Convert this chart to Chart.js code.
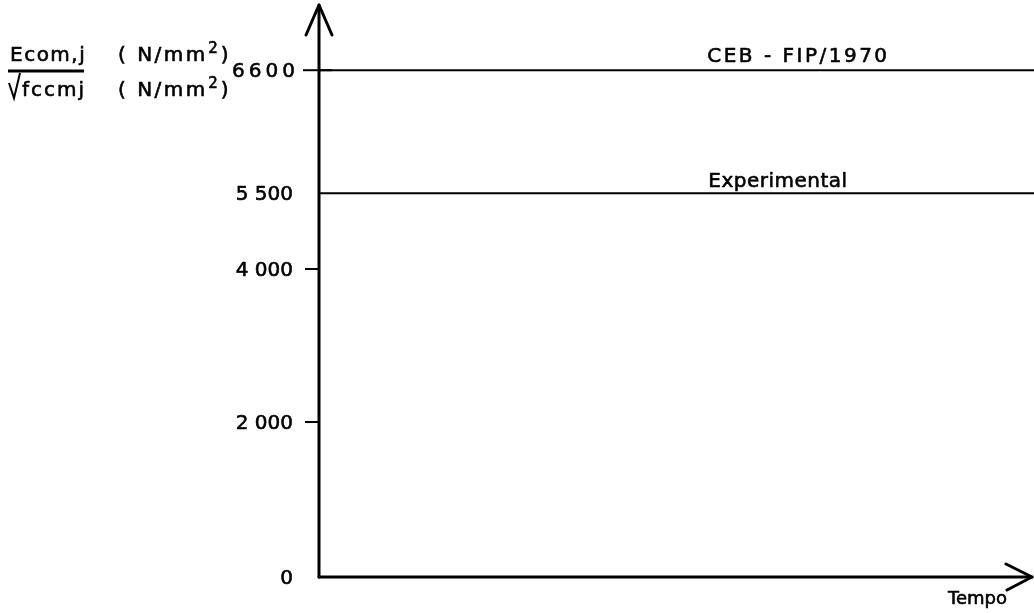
<!DOCTYPE html>
<html>
<head>
<meta charset="utf-8">
<script src="https://cdn.jsdelivr.net/npm/chart.js@4/dist/chart.umd.min.js"></script>
<style>
  html, body { margin: 0; padding: 0; background: #ffffff; }
  #c { display: block; }
</style>
</head>
<body>
<canvas id="c" width="1034" height="613"></canvas>
<script>
// ---- data ----
const timePoints = [0, 1];
const cebFipValues = [6600, 6600];
const experimentalValues = [5500, 5500];
const seriesLabels = ['CEB - FIP/1970', 'Experimental'];
const tickValues = [0, 2000, 4000, 5500, 6600];
const tickLabels = ['0', '2 000', '4 000', '5 500', '6600'];
const tickMarkValues = [2000, 4000];
const crossTickValues = [6600];
const yTitleTop = 'Ecom,j';
const yTitleBottom = 'fccmj';
const unitText = '( N/mm';
const unitSup = '2';
const xTitle = 'Tempo';

// ---- schematic (non-proportional) value axis as drawn in the original ----
const axisStops = [[0, 0], [2000, 0.271], [4000, 0.5385], [5500, 0.671], [6600, 0.886], [7500, 1]];
class SchematicScale extends Chart.LinearScale {
  getPixelForValue(value) {
    if (value === null || value === undefined || isNaN(value)) return NaN;
    let f;
    const s = axisStops;
    if (value <= s[0][0]) f = s[0][1];
    else if (value >= s[s.length - 1][0]) f = s[s.length - 1][1];
    else {
      for (let i = 1; i < s.length; i++) {
        if (value <= s[i][0]) {
          const t = (value - s[i - 1][0]) / (s[i][0] - s[i - 1][0]);
          f = s[i - 1][1] + t * (s[i][1] - s[i - 1][1]);
          break;
        }
      }
    }
    return this.getPixelForDecimal(f);
  }
  getValueForPixel(pixel) {
    const d = this.getDecimalForPixel(pixel);
    const s = axisStops;
    for (let i = 1; i < s.length; i++) {
      if (d <= s[i][1]) {
        const t = (d - s[i - 1][1]) / (s[i][1] - s[i - 1][1]);
        return s[i - 1][0] + t * (s[i][0] - s[i - 1][0]);
      }
    }
    return s[s.length - 1][0];
  }
}
SchematicScale.id = 'schematic';
SchematicScale.defaults = Chart.LinearScale.defaults;
Chart.register(SchematicScale);

const FONT = '"DejaVu Sans", sans-serif';

function drawSpaced(ctx, text, x, y, spacing, align) {
  ctx.letterSpacing = spacing + 'px';
  let w = ctx.measureText(text).width - spacing;
  let sx = x;
  if (align === 'right') sx = x - w;
  else if (align === 'center') sx = x - w / 2;
  ctx.textAlign = 'left';
  ctx.fillText(text, sx, y);
  ctx.lineWidth = 0.6;
  ctx.strokeText(text, sx, y);
  ctx.letterSpacing = '0px';
  return sx + w;
}

const decor = {
  id: 'decor',
  afterDraw(chart) {
    const ctx = chart.ctx;
    const a = chart.chartArea;
    const ys = chart.scales.y;
    const xs = chart.scales.x;
    const x0 = a.left;
    const y0 = ys.getPixelForValue(0);
    ctx.save();
    ctx.strokeStyle = '#000';
    ctx.fillStyle = '#000';
    ctx.lineCap = 'round';
    ctx.lineJoin = 'round';

    // axes
    ctx.lineWidth = 3;
    ctx.beginPath(); ctx.moveTo(x0, y0); ctx.lineTo(x0, a.top); ctx.stroke();
    ctx.beginPath(); ctx.moveTo(x0, y0); ctx.lineTo(a.right - 2, y0); ctx.stroke();
    // arrow heads (open chevrons)
    ctx.beginPath();
    ctx.moveTo(x0 - 13, a.top + 30); ctx.lineTo(x0, a.top); ctx.lineTo(x0 + 13, a.top + 30);
    ctx.stroke();
    ctx.beginPath();
    ctx.moveTo(a.right - 28, y0 - 13); ctx.lineTo(a.right - 2, y0); ctx.lineTo(a.right - 27, y0 + 13);
    ctx.stroke();

    // tick marks
    ctx.lineWidth = 2;
    ctx.lineCap = 'butt';
    tickMarkValues.forEach(v => {
      const py = ys.getPixelForValue(v);
      ctx.beginPath(); ctx.moveTo(x0 - 14, py); ctx.lineTo(x0, py); ctx.stroke();
    });
    crossTickValues.forEach(v => {
      const py = ys.getPixelForValue(v);
      ctx.beginPath(); ctx.moveTo(x0 - 16, py); ctx.lineTo(x0 + 13, py); ctx.stroke();
    });

    // tick labels
    ctx.font = '20px ' + FONT;
    ctx.textBaseline = 'alphabetic';
    tickValues.forEach((v, i) => {
      const py = ys.getPixelForValue(v);
      const cross = crossTickValues.includes(v);
      drawSpaced(ctx, tickLabels[i], cross ? x0 - 24 : x0 - 26, py + 7, cross ? 4 : 0, 'right');
    });

    // series labels just above their lines
    const labelX = xs.getPixelForValue(0.543);
    ctx.font = '20px ' + FONT;
    drawSpaced(ctx, seriesLabels[0], labelX, ys.getPixelForValue(cebFipValues[0]) - 8, 2.5, 'left');
    drawSpaced(ctx, seriesLabels[1], labelX + 1, ys.getPixelForValue(experimentalValues[0]) - 6, 0.5, 'left');

    // x-axis title
    ctx.font = '18px ' + FONT;
    drawSpaced(ctx, xTitle, 948, y0 + 27, 0, 'left');

    // y-axis title: fraction Ecom,j / sqrt(fccmj) with units
    ctx.font = '20px ' + FONT;
    drawSpaced(ctx, yTitleTop, 10, 61, 1.5, 'left');
    drawSpaced(ctx, yTitleBottom, 22, 96, 2, 'left');
    ctx.lineWidth = 3;
    ctx.lineCap = 'butt';
    ctx.beginPath(); ctx.moveTo(8, 71); ctx.lineTo(84, 71); ctx.stroke();
    ctx.lineWidth = 2;
    ctx.lineJoin = 'miter';
    ctx.beginPath(); ctx.moveTo(9, 83); ctx.lineTo(14, 98); ctx.lineTo(20, 73); ctx.stroke();

    [61, 96].forEach(by => {
      ctx.font = '20px ' + FONT;
      let ex = drawSpaced(ctx, unitText, 118, by, 2.5, 'left');
      ctx.font = '15px ' + FONT;
      ex = drawSpaced(ctx, unitSup, ex + 3, by - 8, 0, 'left');
      ctx.font = '20px ' + FONT;
      drawSpaced(ctx, ')', ex + 3, by, 0, 'left');
    });

    ctx.restore();
  }
};

new Chart(document.getElementById('c'), {
  type: 'line',
  data: {
    datasets: [
      {
        label: seriesLabels[0],
        data: timePoints.map((t, i) => ({ x: t, y: cebFipValues[i] })),
        borderColor: '#000', borderWidth: 2, pointRadius: 0, fill: false
      },
      {
        label: seriesLabels[1],
        data: timePoints.map((t, i) => ({ x: t, y: experimentalValues[i] })),
        borderColor: '#000', borderWidth: 2, pointRadius: 0, fill: false
      }
    ]
  },
  options: {
    responsive: false,
    animation: false,
    devicePixelRatio: 1,
    layout: { padding: { left: 319, top: 5, right: 0, bottom: 36 } },
    plugins: { legend: { display: false }, tooltip: { enabled: false } },
    scales: {
      x: { type: 'linear', min: 0, max: 1, display: false },
      y: {
        type: 'schematic', min: 0, max: 7500, display: false,
        afterBuildTicks: (scale) => { scale.ticks = tickValues.map(v => ({ value: v })); }
      }
    }
  },
  plugins: [decor]
});
</script>
</body>
</html>
